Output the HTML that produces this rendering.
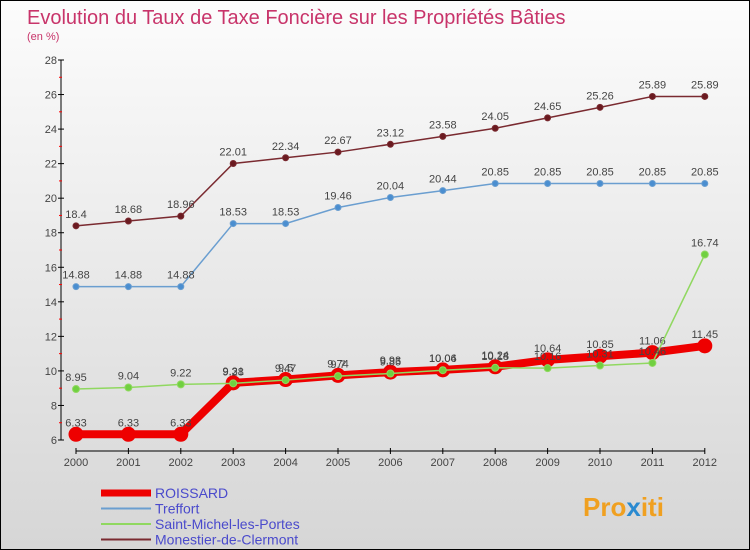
<!DOCTYPE html>
<html><head><meta charset="utf-8"><style>
body{margin:0}
#c{position:relative;width:748px;height:548px;border:1px solid #000;background:linear-gradient(#fcfcfc,#d6d6d6);font-family:"Liberation Sans",sans-serif;overflow:hidden}
</style></head><body>
<div id="c">
<svg id="s" width="748" height="548">
<text x="26" y="23" font-size="20" fill="#c8346a">Evolution du Taux de Taxe Foncière sur les Propriétés Bâties</text>
<text x="26" y="39" font-size="11" fill="#c8346a">(en %)</text>
<g id="axes"></g><g id="series"></g><g id="legend"></g>
<g>
<text x="582" y="515" font-size="26" font-weight="bold" fill="#f0a020">Pro<tspan fill="#2a8ad0">x</tspan>iti</text>
</g>
</svg>
</div>
<script>
const years=[2000,2001,2002,2003,2004,2005,2006,2007,2008,2009,2010,2011,2012];
const roissard=[6.33,6.33,6.33,9.31,9.5,9.74,9.93,10.06,10.24,10.64,10.85,11.06,11.45];
const treffort=[14.88,14.88,14.88,18.53,18.53,19.46,20.04,20.44,20.85,20.85,20.85,20.85,20.85];
const stmichel=[8.95,9.04,9.22,9.28,9.47,9.7,9.85,10.04,10.18,10.16,10.31,10.46,16.74];
const monestier=[18.4,18.68,18.96,22.01,22.34,22.67,23.12,23.58,24.05,24.65,25.26,25.89,25.89];
const yTicks=[6,8,10,12,14,16,18,20,22,24,26,28];
const NS="http://www.w3.org/2000/svg";
const X=i=>75+i*52.4, Y=v=>439-(v-6)*(380/22);
function mk(t,a,p){const e=document.createElementNS(NS,t);for(const k in a)e.setAttribute(k,a[k]);p.appendChild(e);return e;}
const ax=document.getElementById('axes');
let e=mk('line',{x1:60,y1:Y(28),x2:60,y2:Y(6),stroke:'#000'},ax);

e=mk('line',{x1:X(0),y1:450,x2:X(12),y2:450,stroke:'#000'},ax);

yTicks.forEach(v=>{mk('line',{x1:57,x2:63,y1:Y(v),y2:Y(v),stroke:'#000'},ax);
 if(v<28)mk('line',{x1:58,x2:61,y1:Y(v+1),y2:Y(v+1),stroke:'#f00'},ax);
 const t=mk('text',{x:56,y:Y(v)+4,'font-size':11,fill:'#444','text-anchor':'end'},ax);t.textContent=v;
 });
years.forEach((y,i)=>{mk('line',{x1:X(i),x2:X(i),y1:447,y2:453,stroke:'#000'},ax);
 const t=mk('text',{x:X(i),y:465,'font-size':11,fill:'#444','text-anchor':'middle'},ax);t.textContent=y;
 });
const sg=document.getElementById('series');
function series(d,col,w,r,fill,name){const g=mk('g',{},sg);
 
 mk('polyline',{points:d.map((v,i)=>X(i)+','+Y(v)).join(' '),fill:'none',stroke:col,'stroke-width':w},g);
 d.forEach((v,i)=>{const c=mk('circle',{cx:X(i),cy:Y(v),r:r,fill:fill,stroke:col,'stroke-width':1},g);
  
  const t=mk('text',{x:X(i),y:Y(v)-8,'font-size':11,fill:'#444','text-anchor':'middle'},g);t.textContent=v;
  });}
series(monestier,'#7a2a30',1.5,3,'#6a1a20','series-monestier');
series(treffort,'#6a9ed0',1.5,3,'#4a8ed0','series-treffort');
series(roissard,'#ee0000',8,7,'#ee0000','series-roissard');
series(stmichel,'#90d860',1.5,3.5,'#70d040','series-stmichel');
const lg=document.getElementById('legend');
[['ROISSARD','#ee0000',7],['Treffort','#6a9ed0',2],['Saint-Michel-les-Portes','#90d860',2],['Monestier-de-Clermont','#7a2a30',2]].forEach((l,i)=>{
 const yy=492+i*15.5;const g=mk('g',{},lg);
 
 mk('line',{x1:100,x2:150,y1:yy,y2:yy,stroke:l[1],'stroke-width':l[2]},g);
 const t=mk('text',{x:154,y:yy+5,'font-size':14,fill:'#4a4acc'},g);t.textContent=l[0];});
</script>
</body></html>
